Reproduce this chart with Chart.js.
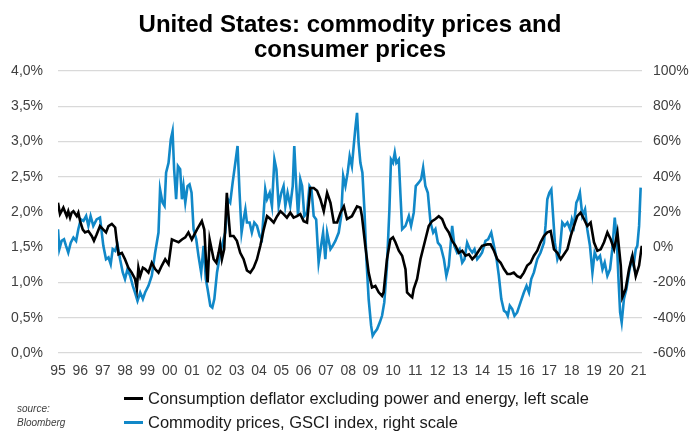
<!DOCTYPE html>
<html>
<head>
<meta charset="utf-8">
<script src="https://cdn.jsdelivr.net/npm/chart.js@4"></script>
<style>
  html, body { margin: 0; padding: 0; background: #fff; }
  #wrap { position: relative; width: 693px; height: 431px; overflow: hidden; }
  #c { position: absolute; left: 0; top: 0; }
  .leg { position: absolute; left: 124px; height: 20px; line-height: 20px; font-family: "Liberation Sans", Arial, sans-serif; font-size: 16.5px; color: #1a1a1a; white-space: nowrap; }
  .leg i { display: inline-block; width: 19px; height: 3px; vertical-align: middle; margin-right: 5px; position: relative; top: -1px; }
  .src { position: absolute; left: 17px; top: 402px; font-family: "Liberation Sans", Arial, sans-serif; font-style: italic; font-size: 10px; line-height: 14px; color: #404040; }
</style>
</head>
<body>
<div id="wrap">
  <canvas id="c" width="693" height="431"></canvas>
  <div class="leg" id="leg0" style="top:388px"><i style="background:#000"></i><span></span></div>
  <div class="leg" id="leg1" style="top:412px"><i style="background:#1188c8"></i><span></span></div>
  <div class="src">source:<br>Bloomberg</div>
</div>
<script>
const titleLines = ["United States: commodity prices and", "consumer prices"];
const seriesNames = ["Consumption deflator excluding power and energy, left scale", "Commodity prices, GSCI index, right scale"];

// Consumption deflator ex power & energy (left scale, %)
const deflatorDates = [
1995.00,1995.09,1995.24,1995.39,1995.46,1995.54,1995.61,1995.69,1995.84,1995.91,1995.99,
1996.11,1996.21,1996.36,1996.51,1996.61,1996.73,1996.88,
1997.03,1997.15,1997.26,1997.41,1997.56,1997.63,1997.71,1997.86,
1998.00,1998.15,1998.30,1998.45,1998.53,1998.60,1998.68,1998.80,1998.90,
1999.05,1999.20,1999.35,1999.50,1999.65,1999.80,1999.95,
2000.10,2000.25,2000.40,2000.55,2000.70,2000.84,2000.99,
2001.22,2001.44,2001.55,2001.64,2001.70,2001.79,2001.86,2001.97,
2002.09,2002.19,2002.26,2002.34,2002.44,2002.56,2002.61,2002.71,2002.86,
2003.01,2003.16,2003.31,2003.46,2003.61,2003.76,2003.91,
2004.06,2004.21,2004.36,2004.51,2004.66,2004.81,2004.96,
2005.10,2005.25,2005.40,2005.55,2005.70,2005.85,
2006.00,2006.15,2006.30,2006.45,2006.60,2006.75,2006.90,
2007.05,2007.20,2007.35,2007.50,2007.65,2007.80,2007.94,
2008.16,2008.39,2008.54,2008.61,2008.76,2008.91,
2009.06,2009.21,2009.36,2009.51,2009.58,2009.73,2009.88,
2010.00,2010.11,2010.26,2010.41,2010.56,2010.63,2010.78,2010.86,2010.93,
2011.08,2011.23,2011.45,2011.60,2011.75,2011.90,
2012.05,2012.20,2012.35,2012.50,2012.65,2012.80,2012.95,
2013.10,2013.25,2013.40,2013.55,2013.70,2013.84,2013.99,
2014.22,2014.37,2014.52,2014.67,2014.82,2014.97,
2015.12,2015.26,2015.41,2015.56,2015.71,2015.86,
2016.01,2016.16,2016.31,2016.46,2016.61,2016.76,2016.91,
2017.06,2017.21,2017.36,2017.51,2017.66,2017.81,2017.96,
2018.10,2018.25,2018.40,2018.55,2018.70,2018.85,
2019.00,2019.15,2019.30,2019.45,2019.60,2019.75,2019.90,
2020.05,2020.20,2020.27,2020.42,2020.57,2020.72,2020.87,
2021.02,2021.14];
const deflatorValues = [
2.13,1.97,2.06,1.94,2.01,1.92,1.99,2.01,1.94,1.99,1.87,
1.75,1.71,1.73,1.66,1.59,1.68,1.80,
1.75,1.71,1.80,1.83,1.78,1.59,1.40,1.42,
1.33,1.21,1.14,1.05,0.91,1.21,1.09,1.21,1.19,
1.14,1.28,1.19,1.14,1.24,1.33,1.26,
1.61,1.59,1.57,1.61,1.64,1.71,1.61,
1.75,1.87,1.75,1.24,1.00,1.61,1.50,1.33,
1.28,1.42,1.54,1.33,1.47,2.27,2.04,1.66,1.66,
1.59,1.42,1.33,1.17,1.14,1.21,1.33,
1.52,1.75,1.94,1.90,1.85,1.94,2.01,
1.97,1.92,1.99,1.92,1.94,1.97,
1.87,1.85,2.34,2.34,2.30,2.18,2.01,
2.27,2.13,1.85,1.85,1.99,2.08,1.90,
1.94,2.08,2.06,1.94,1.52,1.14,
0.93,0.95,0.86,0.81,0.86,1.33,1.61,
1.64,1.57,1.45,1.38,1.19,0.86,0.81,0.79,0.91,
1.05,1.33,1.61,1.80,1.87,1.90,
1.94,1.90,1.78,1.71,1.59,1.52,1.42,
1.45,1.38,1.40,1.33,1.38,1.45,1.52,
1.54,1.54,1.45,1.33,1.28,1.19,
1.12,1.12,1.14,1.09,1.07,1.14,
1.24,1.28,1.38,1.45,1.57,1.66,1.71,
1.73,1.47,1.42,1.33,1.40,1.47,1.66,
1.80,1.94,1.99,1.90,1.80,1.85,
1.57,1.45,1.47,1.57,1.71,1.61,1.47,
1.71,1.24,0.79,0.91,1.19,1.38,1.09,
1.24,1.52];

// Commodity prices, GSCI index (right scale, % y/y)
const gsciDates = [
1995.00,1995.06,1995.16,1995.27,1995.36,1995.46,1995.57,1995.69,1995.81,1995.91,
1996.02,1996.14,1996.26,1996.36,1996.46,1996.58,1996.73,1996.88,
1997.03,1997.15,1997.26,1997.36,1997.45,1997.56,1997.66,1997.78,1997.90,
1998.00,1998.11,1998.23,1998.35,1998.45,1998.56,1998.68,1998.80,1998.90,
1999.05,1999.20,1999.35,1999.50,1999.57,1999.68,1999.77,1999.84,1999.95,
2000.05,2000.13,2000.20,2000.29,2000.37,2000.47,2000.55,2000.62,2000.70,2000.80,2000.89,2000.98,
2001.07,2001.19,2001.29,2001.41,2001.52,2001.62,2001.70,2001.82,2001.91,
2002.00,2002.12,2002.22,2002.34,2002.49,2002.61,2002.71,2002.82,2002.94,
2003.04,2003.13,2003.22,2003.31,2003.39,2003.46,2003.58,2003.68,2003.79,2003.91,
2004.03,2004.13,2004.28,2004.36,2004.48,2004.58,2004.69,2004.78,2004.88,
2005.00,2005.10,2005.18,2005.28,2005.40,2005.51,2005.58,2005.66,2005.75,2005.85,2005.93,
2006.03,2006.15,2006.26,2006.35,2006.45,2006.56,2006.67,2006.78,2006.87,2006.97,
2007.05,2007.20,2007.30,2007.42,2007.57,2007.68,2007.77,2007.87,2007.97,
2008.06,2008.16,2008.24,2008.31,2008.39,2008.46,2008.54,2008.63,2008.72,2008.81,2008.91,
2009.02,2009.09,2009.18,2009.29,2009.41,2009.51,2009.61,2009.73,2009.84,2009.91,
2010.00,2010.08,2010.15,2010.26,2010.33,2010.41,2010.56,2010.71,2010.81,2010.93,
2011.02,2011.15,2011.26,2011.35,2011.45,2011.56,2011.68,2011.80,2011.90,
2012.01,2012.13,2012.28,2012.39,2012.50,2012.65,2012.75,2012.87,2012.98,
2013.10,2013.20,2013.32,2013.44,2013.55,2013.65,2013.77,2013.89,2013.99,
2014.14,2014.26,2014.40,2014.52,2014.64,2014.74,2014.85,2014.97,
2015.07,2015.14,2015.23,2015.34,2015.44,2015.56,2015.71,2015.86,2015.98,
2016.09,2016.19,2016.31,2016.46,2016.61,2016.76,2016.83,2016.91,
2017.00,2017.09,2017.16,2017.25,2017.36,2017.46,2017.58,2017.69,2017.81,2017.93,
2018.01,2018.10,2018.21,2018.28,2018.37,2018.48,2018.60,2018.70,2018.82,2018.93,
2019.03,2019.15,2019.27,2019.38,2019.48,2019.60,2019.72,2019.82,2019.93,
2020.02,2020.09,2020.17,2020.24,2020.34,2020.45,2020.57,2020.68,2020.77,2020.87,2020.94,
2021.02,2021.09];
const gsciValues = [
10.2,-1.1,3.6,4.5,0.8,-3.0,2.6,5.5,3.6,10.2,
15.8,14.9,17.7,12.1,17.7,12.1,15.8,16.8,
0.8,-6.8,-5.8,-9.6,-1.1,-2.1,1.7,-6.8,-14.3,
-18.1,-12.5,-16.2,-21.9,-25.7,-30.4,-25.7,-29.4,-25.7,
-21.9,-16.2,-3.0,8.3,32.8,25.3,23.4,42.3,47.9,
61.1,65.8,44.2,27.2,46.0,44.2,27.2,34.7,25.3,34.7,35.7,30.9,
10.2,4.5,-4.9,-14.3,0.8,-18.1,-23.8,-33.2,-34.2,
-29.4,-14.3,-6.8,0.8,8.3,27.2,25.3,36.6,47.9,
57.4,30.9,8.3,15.8,21.5,14.0,14.0,8.3,14.0,12.1,
6.4,4.5,32.8,27.2,30.9,23.4,49.8,44.2,23.4,
30.9,34.7,23.4,30.9,23.4,34.7,57.4,36.6,17.7,38.5,34.7,
17.7,19.6,34.7,32.8,17.7,15.8,-8.7,0.8,8.3,-6.8,
8.3,-1.1,0.8,3.6,8.3,17.7,40.4,34.7,42.3,
51.7,46.0,57.4,66.8,76.2,59.2,47.9,42.3,21.5,-6.8,-29.4,
-44.5,-50.2,-48.3,-46.4,-42.6,-38.9,-31.3,-10.6,21.5,49.8,
47.9,53.6,47.9,49.8,30.9,10.2,12.1,17.7,12.1,19.6,
34.7,36.6,38.5,45.1,34.7,30.9,14.0,8.3,10.2,
2.6,0.8,-6.8,-16.2,-10.6,12.1,0.8,-3.0,-1.1,
-8.7,-6.8,2.6,-1.1,-3.0,-1.1,-6.8,-4.9,-3.0,
3.6,4.5,8.3,0.8,-6.8,-16.2,-29.4,-36.0,
-37.0,-38.9,-33.2,-35.1,-38.9,-37.0,-31.3,-25.7,-21.9,
-25.7,-18.1,-14.3,-6.8,-3.0,2.6,12.1,27.2,
30.9,32.8,19.6,2.6,-6.8,-3.0,14.0,12.1,14.0,10.2,
15.8,12.1,25.3,27.2,30.9,17.7,21.5,10.2,0.8,-14.3,
-3.0,-6.8,-4.9,-12.5,-8.7,-16.2,-12.5,-1.1,16.8,
4.5,-16.2,-37.0,-42.6,-29.4,-23.8,-14.3,-6.8,-10.6,-1.1,0.8,
12.1,33.8];

const leftTicks = { min: 0, max: 4, step: 0.5 };
const rightTicks = { min: -60, max: 100, step: 20 };
const yearRange = { first: 1995, last: 2021.15 };

const colors = { deflator: "#000000", gsci: "#1188c8", grid: "#d9d9d9", text: "#404040" };

document.querySelector('#leg0 span').textContent = seriesNames[0];
document.querySelector('#leg1 span').textContent = seriesNames[1];

Chart.defaults.font.family = '"Liberation Sans", Arial, sans-serif';
Chart.defaults.color = colors.text;

const toPts = (xs, ys) => xs.map((x, i) => ({ x: x, y: ys[i] }));

new Chart(document.getElementById('c'), {
  type: 'line',
  data: {
    datasets: [
      { label: seriesNames[0], data: toPts(deflatorDates, deflatorValues), yAxisID: 'yL',
        borderColor: colors.deflator, borderWidth: 2.6, pointRadius: 0, tension: 0, fill: false },
      { label: seriesNames[1], data: toPts(gsciDates, gsciValues), yAxisID: 'yR',
        borderColor: colors.gsci, borderWidth: 2.6, pointRadius: 0, tension: 0, fill: false }
    ]
  },
  options: {
    responsive: false,
    animation: false,
    parsing: false,
    layout: { padding: { left: 11, right: 4, top: 0, bottom: 51 } },
    plugins: {
      legend: { display: false },
      tooltip: { enabled: false },
      title: {
        display: true,
        text: titleLines,
        color: '#000',
        font: { size: 24, weight: 'bold', lineHeight: 1.04 },
        padding: { top: 13, bottom: 8 }
      }
    },
    scales: {
      x: {
        type: 'linear',
        min: yearRange.first,
        max: yearRange.last,
        grid: { display: false, drawTicks: false },
        border: { display: false },
        afterFit: s => { s.height = 27; },
        ticks: {
          stepSize: 1, includeBounds: false, autoSkip: false, maxRotation: 0,
          padding: 10, font: { size: 14 }, color: colors.text,
          callback: v => Number.isInteger(v) ? String(v % 100).padStart(2, '0') : ''
        }
      },
      yL: {
        position: 'left',
        min: leftTicks.min, max: leftTicks.max,
        grid: { color: colors.grid, lineWidth: 1.2, drawTicks: false },
        border: { display: false },
        afterFit: s => { s.width = 47; },
        ticks: { stepSize: leftTicks.step, padding: 15, font: { size: 14 }, color: colors.text,
          callback: v => v.toFixed(1).replace('.', ',') + '%' }
      },
      yR: {
        position: 'right',
        min: rightTicks.min, max: rightTicks.max,
        grid: { drawOnChartArea: false, drawTicks: false },
        border: { display: false },
        afterFit: s => { s.width = 47; },
        ticks: { stepSize: rightTicks.step, padding: 11, font: { size: 14 }, color: colors.text,
          callback: v => v + '%' }
      }
    }
  }
});
</script>
</body>
</html>
